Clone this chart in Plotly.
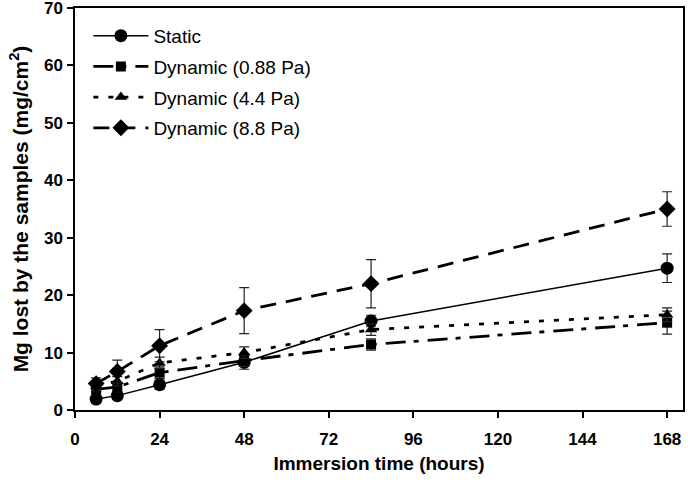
import plotly.graph_objects as go

hours = [6, 12, 24, 48, 84, 168]

static = [1.9, 2.5, 4.4, 8.3, 15.5, 24.7]
static_err = [0.6, 0.6, 0.8, 1.2, 1.0, 2.5]

dyn_088 = [3.6, 4.0, 6.5, 8.6, 11.4, 15.2]
dyn_088_err = [0.8, 0.8, 1.0, 1.0, 1.0, 2.0]

dyn_44 = [4.2, 5.0, 8.2, 10.0, 14.0, 16.6]
dyn_44_err = [0.8, 0.8, 1.0, 1.0, 1.0, 1.2]

dyn_88 = [4.6, 6.7, 11.2, 17.3, 22.0, 35.0]
dyn_88_err = [1.0, 2.0, 2.8, 4.0, 4.2, 3.0]

names = ["Static", "Dynamic (0.88 Pa)", "Dynamic (4.4 Pa)", "Dynamic (8.8 Pa)"]
series = [(static, static_err), (dyn_088, dyn_088_err), (dyn_44, dyn_44_err), (dyn_88, dyn_88_err)]
dashes = ["solid", "20px,8px,5px,9px", "5px,10px", "16px,10px"]
widths = [1.5, 2.8, 2.8, 2.8]
symbols = ["circle", "square", "triangle-up", "diamond"]
sizes = [13, 10, 11, 13]

fig = go.Figure()
for i, (nm, (vals, err), d, w, sym, sz) in enumerate(zip(names, series, dashes, widths, symbols, sizes)):
    fig.add_trace(go.Scatter(
        x=hours, y=vals, name=nm, mode="lines+markers", legendgroup=f"g{i}",
        line=dict(color="black", width=w, dash=d),
        marker=dict(symbol=sym, size=sz, color="black"),
        error_y=dict(type="data", array=err, visible=True, color="#222", thickness=1.2, width=5),
    ))

font = "Liberation Sans, Arial, sans-serif"
fig.update_layout(
    width=688, height=486,
    margin=dict(l=75, r=5, t=8, b=76, autoexpand=False),
    paper_bgcolor="white", plot_bgcolor="white",
    font=dict(family=font, color="black"),
    showlegend=True,
    legend=dict(x=0.022, y=0.978, xanchor="left", yanchor="top",
                font=dict(size=19, family=font), bgcolor="rgba(0,0,0,0)",
                itemwidth=55, tracegroupgap=3, traceorder="grouped"),
    xaxis=dict(range=[0, 172.5], tickvals=[0, 24, 48, 72, 96, 120, 144, 168],
               ticks="outside", ticklen=6, tickwidth=1.5, tickcolor="black",
               showline=True, linecolor="black", linewidth=1.5, mirror=True,
               showgrid=False, zeroline=False, automargin=False,
               ticklabeloverflow="allow", ticklabelstandoff=7,
               tickfont=dict(size=17, family=font, weight="bold"),
               title=dict(text="<b>Immersion time (hours)</b>", font=dict(size=19, family=font), standoff=9)),
    yaxis=dict(range=[0, 70], dtick=10,
               ticks="outside", ticklen=6, tickwidth=1.5, tickcolor="black",
               showline=True, linecolor="black", linewidth=1.5, mirror=True,
               showgrid=False, zeroline=False, automargin=False,
               ticklabeloverflow="allow", ticklabelstandoff=1,
               tickfont=dict(size=17, family=font, weight="bold"),
               title=dict(text="<b>Mg lost by the samples (mg/cm<sup>2</sup>)</b>", font=dict(size=21, family=font), standoff=10)),
)

fig.write_html("out.html", config={"displayModeBar": False},
               post_script="document.body.style.margin='0';")
